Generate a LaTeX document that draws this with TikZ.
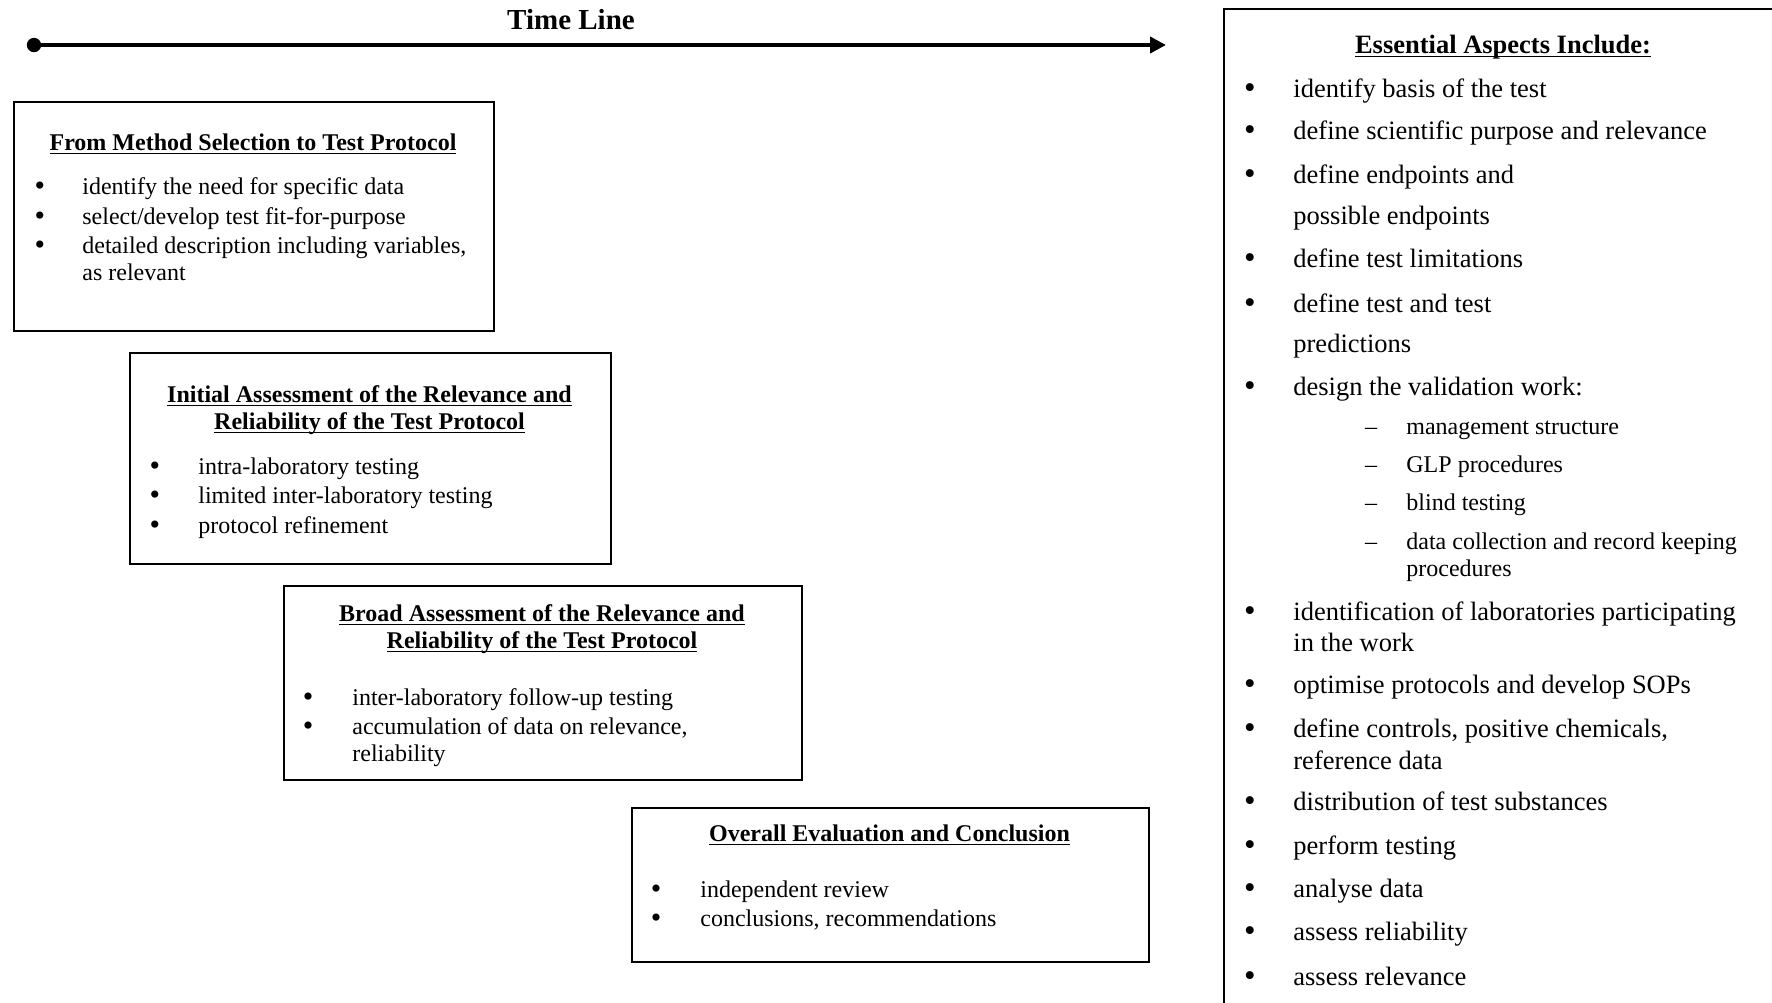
\documentclass[tikz,border=0pt]{standalone}
\usepackage{fontspec}
\setmainfont{Liberation Serif}
\usetikzlibrary{arrows.meta}
\newcommand{\uln}[1]{\setbox0\hbox{#1}\rlap{\rule[-2.2pt]{\wd0}{0.85pt}}\box0}

\tikzset{
  stagebox/.style={draw, line width=1pt, anchor=north west, inner sep=0pt},
  boxtitle/.style={anchor=base, inner sep=0pt, font=\fontsize{12}{14}\selectfont\bfseries},
  listline/.style={anchor=base west, inner sep=0pt, font=\fontsize{12}{14}\selectfont},
  bulletmark/.style={anchor=base, inner sep=0pt, yshift=-0.8pt, font=\fontsize{15}{15}\selectfont},
  dashmark/.style={anchor=base, inner sep=0pt, font=\fontsize{12}{14}\selectfont},
  bigline/.style={listline, font=\fontsize{13.25}{15}\selectfont},
  bigmark/.style={bulletmark, yshift=-0.1pt, font=\fontsize{16.5}{16.5}\selectfont},
}

\begin{document}
\begin{tikzpicture}[x=0.5pt, y=-0.5pt] % time line, 4 stages, aspects
   \useasboundingbox (0,0) rectangle (1772,1002);
   \clip (0,0) rectangle (1772,1002);

   % time line
   \node[anchor=base, inner sep=0pt, font=\fontsize{14.5}{17}\selectfont\bfseries] (tltitle) at (571,29) {Time Line};
   \coordinate (tlstart) at (34,45);
   \coordinate (tlend) at (1166,45);
   \draw[line width=2.1pt, -{Triangle[length=8pt,width=8pt]}] (tlstart) -- (tlend);
   \fill (tlstart) circle (3.6pt);

   % stage 1
   \node[stagebox, minimum width=240pt, minimum height=114.5pt] (box1) at (13,101) {};
   \node[boxtitle] (box1t) at (253,150) {\uln{From Method Selection to Test Protocol}};
   \foreach \y in {194,224,253}
      \node[bulletmark] (box1b\y) at (40,\y) {•};
   \foreach \y/\t [count=\i] in {194/{identify the need for specific data},
         224/{select/develop test fit-for-purpose},
         253/{detailed description including variables,},
         280/{as relevant}}
      \node[listline] (box1l\i) at (82,\y) {\t};

   % stage 2
   \node[stagebox, minimum width=240.5pt, minimum height=105.5pt] (box2) at (129,352) {};
   \node[boxtitle] (box2t1) at (369.5,402) {\uln{Initial Assessment of the Relevance and}};
   \node[boxtitle] (box2t2) at (369.5,429) {\uln{Reliability of the Test Protocol}};
   \foreach \y/\t [count=\i] in {474/{intra-laboratory testing},
         503/{limited inter-laboratory testing},
         533/{protocol refinement}}{
      \node[bulletmark] (box2b\i) at (155,\y) {•};
      \node[listline] (box2l\i) at (198,\y) {\t};
   }

   % stage 3
   \node[stagebox, minimum width=259pt, minimum height=97pt] (box3) at (283,585) {};
   \node[boxtitle] (box3t1) at (542,621) {\uln{Broad Assessment of the Relevance and}};
   \node[boxtitle] (box3t2) at (542,648) {\uln{Reliability of the Test Protocol}};
   \foreach \y in {705,734}
      \node[bulletmark] (box3b\y) at (308,\y) {•};
   \foreach \y/\t [count=\i] in {705/{inter-laboratory follow-up testing},
         734/{accumulation of data on relevance,},
         761/{reliability}}
      \node[listline] (box3l\i) at (352,\y) {\t};

   % stage 4
   \node[stagebox, minimum width=258.5pt, minimum height=77pt] (box4) at (631,807) {};
   \node[boxtitle] (box4t) at (889.5,841) {\uln{Overall Evaluation and Conclusion}};
   \foreach \y/\t [count=\i] in {897/{independent review},
         926/{conclusions, recommendations}}{
      \node[bulletmark] (box4b\i) at (656,\y) {•};
      \node[listline] (box4l\i) at (700,\y) {\t};
   }

   % essential aspects
   \node[stagebox, minimum width=300pt, minimum height=505pt] (aspects) at (1223,8) {};
   \node[boxtitle, font=\fontsize{13.25}{15}\selectfont\bfseries] (aspectst) at (1503,53) {\uln{Essential Aspects Include:}};
   \foreach \y in {97,139,183,267,312,395,620,693,737,810,854,897,940,985}
      \node[bigmark] (aspectsb\y) at (1250,\y) {•};
   \foreach \y/\t [count=\i] in {97/{identify basis of the test},
         139/{define scientific purpose and relevance},
         183/{define endpoints and},
         224/{possible endpoints},
         267/{define test limitations},
         312/{define test and test},
         352/{predictions},
         395/{design the validation work:},
         620/{identification of laboratories participating},
         651/{in the work},
         693/{optimise protocols and develop SOPs},
         737/{define controls, positive chemicals,},
         769/{reference data},
         810/{distribution of test substances},
         854/{perform testing},
         897/{analyse data},
         940/{assess reliability},
         985/{assess relevance}}
      \node[bigline] (aspectsl\i) at (1293,\y) {\t};
   \foreach \y in {434,472,510,549}
      \node[dashmark] (aspectsd\y) at (1371,\y) {–};
   \foreach \y/\t [count=\i] in {434/{management structure},
         472/{GLP procedures},
         510/{blind testing},
         549/{data collection and record keeping},
         576/{procedures}}
      \node[listline] (aspectss\i) at (1406,\y) {\t};
\end{tikzpicture}
\end{document}
